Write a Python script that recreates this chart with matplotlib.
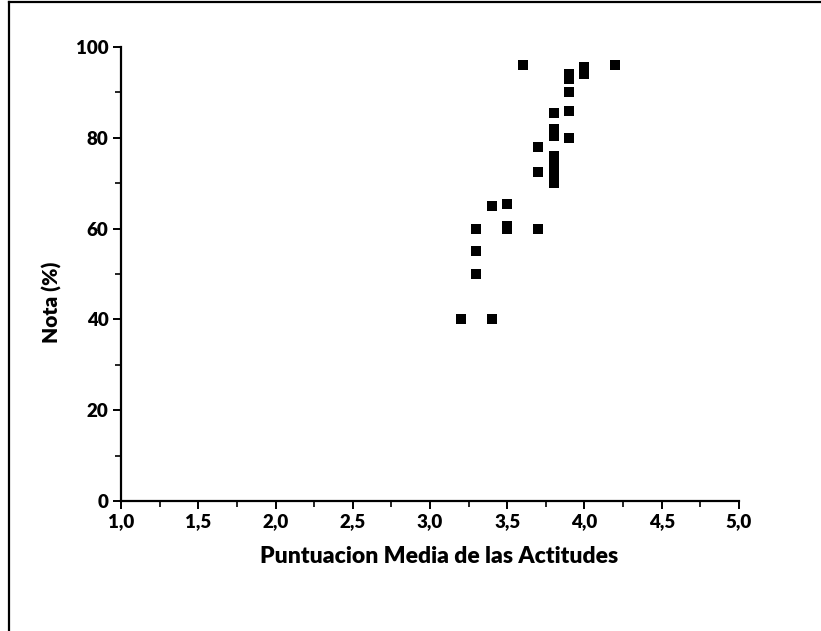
import matplotlib.pyplot as plt
from matplotlib.lines import Line2D
from matplotlib.ticker import MultipleLocator, FuncFormatter

# puntuacion media de actitudes vs nota
actitudes = [3.2, 3.4, 3.3, 3.3, 3.3, 3.4, 3.5, 3.5, 3.5, 3.7, 3.7, 3.7, 3.6,
             3.8, 3.8, 3.8, 3.8, 3.8, 3.8, 3.8, 3.8,
             3.9, 3.9, 3.9, 3.9, 3.9, 4.0, 4.0, 4.2]
nota = [40, 40, 50, 55, 60, 65, 65.5, 60, 60.5, 60, 72.5, 78, 96,
        70, 72, 73, 74.5, 76, 80.5, 82, 85.5,
        80, 86, 90, 93, 94, 94, 95.5, 96]

plt.rcParams['font.family'] = ['Lato', 'DejaVu Sans']

fig = plt.figure(figsize=(8.21, 6.31), dpi=100)
ax = fig.add_axes([0.1474, 0.206, 0.7527, 0.7195])

ax.scatter(actitudes, nota, marker='s', s=56, color='black', linewidths=0, zorder=3, clip_on=False)

ax.set_xlim(1.0, 5.0)
ax.set_ylim(0, 100)
ax.xaxis.set_major_locator(MultipleLocator(0.5))
ax.xaxis.set_minor_locator(MultipleLocator(0.25))
ax.yaxis.set_major_locator(MultipleLocator(20))
ax.yaxis.set_minor_locator(MultipleLocator(10))
ax.xaxis.set_major_formatter(FuncFormatter(lambda v, p: f'{v:.1f}'.replace('.', ',')))
ax.yaxis.set_major_formatter(FuncFormatter(lambda v, p: f'{v:.0f}'))

for s in ['top', 'right']:
    ax.spines[s].set_visible(False)
for s in ['left', 'bottom']:
    ax.spines[s].set_linewidth(1.6)

ax.tick_params(which='major', direction='out', length=6, width=1.4, labelsize=13.5, pad=3)
ax.tick_params(which='minor', direction='out', length=4, width=1.2)
for lab in ax.get_xticklabels() + ax.get_yticklabels():
    lab.set_fontweight('heavy')

ax.set_xlabel('Puntuacion Media de las Actitudes', fontsize=16.5, fontweight='heavy')
ax.xaxis.set_label_coords(0.515, -0.10)
ax.set_ylabel('Nota (%)', fontsize=15, fontweight='heavy')
ax.yaxis.set_label_coords(-0.095, 0.438)

# partial frame around the figure
fig.add_artist(Line2D([9/821, 9/821], [0, 1 - 2/631], transform=fig.transFigure, color='black', lw=1.6))
fig.add_artist(Line2D([9/821, 1], [1 - 2/631, 1 - 2/631], transform=fig.transFigure, color='black', lw=1.6))

fig.savefig('out.png', dpi=100)
